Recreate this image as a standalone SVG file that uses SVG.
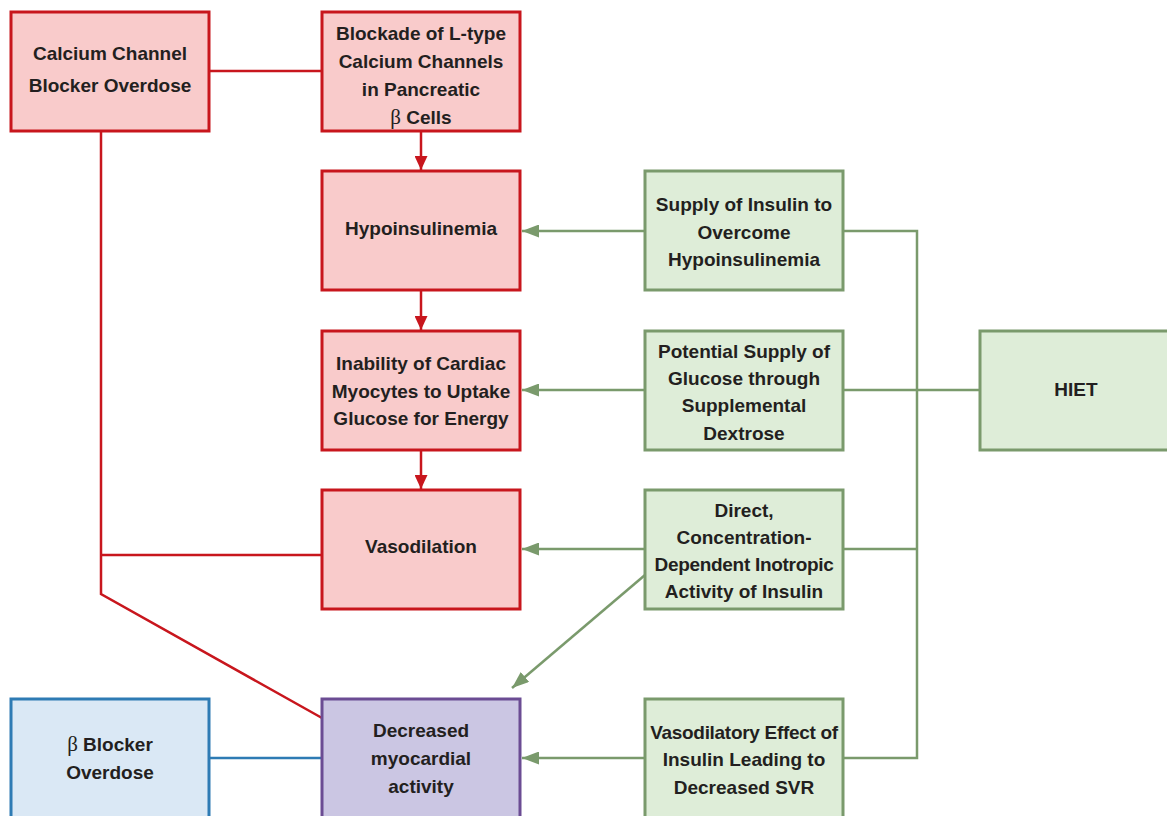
<svg xmlns="http://www.w3.org/2000/svg" width="1167" height="816" viewBox="0 0 1167 816">
<defs>
<style>
.red rect{fill:#f9cbcb;stroke:#c8161d;stroke-width:3}
.grn rect{fill:#deedd8;stroke:#7a9a6c;stroke-width:3}
.pur rect{fill:#cbc6e3;stroke:#6b4c93;stroke-width:3}
.blu rect{fill:#dae8f5;stroke:#2e7bb4;stroke-width:3}
text{font-family:"Liberation Sans",Arial,sans-serif;font-weight:bold;font-size:19px;fill:#231f20;text-anchor:middle}
.gr{font-family:"Liberation Serif","Times New Roman",serif;font-weight:normal;font-size:21px}
.tight{letter-spacing:-0.3px}
.lr{stroke:#c8161d;stroke-width:2.5;fill:none}
.lg{stroke:#7a9a6c;stroke-width:2.5;fill:none}
.lb{stroke:#2e7bb4;stroke-width:2.5;fill:none}
</style>
<marker id="ar" viewBox="0 0 14 13" refX="14" refY="6.5" markerWidth="14" markerHeight="13" markerUnits="userSpaceOnUse" orient="auto"><path d="M0,0L14,6.5L0,13z" fill="#c8161d"/></marker>
<marker id="ag" viewBox="0 0 17 13" refX="17" refY="6.5" markerWidth="17" markerHeight="13" markerUnits="userSpaceOnUse" orient="auto"><path d="M0,0L17,6.5L0,13z" fill="#7a9a6c"/></marker>
</defs>
<rect width="1167" height="816" fill="#fff"/>
<g id="connectors">
<line class="lr" x1="209" y1="71" x2="322" y2="71"/>
<line class="lr" x1="421" y1="131" x2="421" y2="170" marker-end="url(#ar)"/>
<line class="lr" x1="421" y1="290" x2="421" y2="330" marker-end="url(#ar)"/>
<line class="lr" x1="421" y1="450" x2="421" y2="489" marker-end="url(#ar)"/>
<polyline class="lr" points="101,131 101,594 322,718"/>
<line class="lr" x1="101" y1="555" x2="322" y2="555"/>
<line class="lb" x1="209" y1="758" x2="322" y2="758"/>
<line class="lg" x1="645" y1="231" x2="522" y2="231" marker-end="url(#ag)"/>
<line class="lg" x1="645" y1="390" x2="522" y2="390" marker-end="url(#ag)"/>
<line class="lg" x1="645" y1="549" x2="522" y2="549" marker-end="url(#ag)"/>
<line class="lg" x1="645" y1="758" x2="522" y2="758" marker-end="url(#ag)"/>
<line class="lg" x1="645" y1="575" x2="512" y2="688" marker-end="url(#ag)"/>
<polyline class="lg" points="843,231 917,231 917,758 843,758"/>
<line class="lg" x1="843" y1="390" x2="980" y2="390"/>
<line class="lg" x1="843" y1="549" x2="917" y2="549"/>
</g>
<g id="ccb" class="red"><rect x="11" y="12" width="198" height="119"/>
<text x="110" y="60">Calcium Channel</text><text x="110" y="92">Blocker Overdose</text></g>
<g id="blockade" class="red"><rect x="322" y="12" width="198" height="119"/>
<text x="421" y="40">Blockade of L-type</text><text x="421" y="68">Calcium Channels</text><text x="421" y="96">in Pancreatic</text><text x="421" y="124"><tspan class="gr">β</tspan> Cells</text></g>
<g id="hypo" class="red"><rect x="322" y="171" width="198" height="119"/>
<text x="421" y="235">Hypoinsulinemia</text></g>
<g id="inability" class="red"><rect x="322" y="331" width="198" height="119"/>
<text x="421" y="370">Inability of Cardiac</text><text x="421" y="398">Myocytes to Uptake</text><text x="421" y="425">Glucose for Energy</text></g>
<g id="vaso" class="red"><rect x="322" y="490" width="198" height="119"/>
<text x="421" y="553">Vasodilation</text></g>
<g id="decreased" class="pur"><rect x="322" y="699" width="198" height="130"/>
<text x="421" y="737">Decreased</text><text x="421" y="765">myocardial</text><text x="421" y="793">activity</text></g>
<g id="bb" class="blu"><rect x="11" y="699" width="198" height="130"/>
<text x="110" y="751"><tspan class="gr">β</tspan> Blocker</text><text x="110" y="779">Overdose</text></g>
<g id="supply" class="grn"><rect x="645" y="171" width="198" height="119"/>
<text x="744" y="211">Supply of Insulin to</text><text x="744" y="239">Overcome</text><text x="744" y="266">Hypoinsulinemia</text></g>
<g id="potential" class="grn"><rect x="645" y="331" width="198" height="119"/>
<text x="744" y="358">Potential Supply of</text><text x="744" y="385">Glucose through</text><text x="744" y="412">Supplemental</text><text x="744" y="440">Dextrose</text></g>
<g id="direct" class="grn"><rect x="645" y="490" width="198" height="119"/>
<text x="744" y="517">Direct,</text><text x="744" y="544">Concentration-</text><text x="744" y="571" class="tight">Dependent Inotropic</text><text x="744" y="598">Activity of Insulin</text></g>
<g id="vasodilatory" class="grn"><rect x="645" y="699" width="198" height="130"/>
<text x="744" y="739" class="tight">Vasodilatory Effect of</text><text x="744" y="766">Insulin Leading to</text><text x="744" y="794">Decreased SVR</text></g>
<g id="hiet" class="grn"><rect x="980" y="331" width="200" height="119"/>
<text x="1076" y="396">HIET</text></g>
</svg>
